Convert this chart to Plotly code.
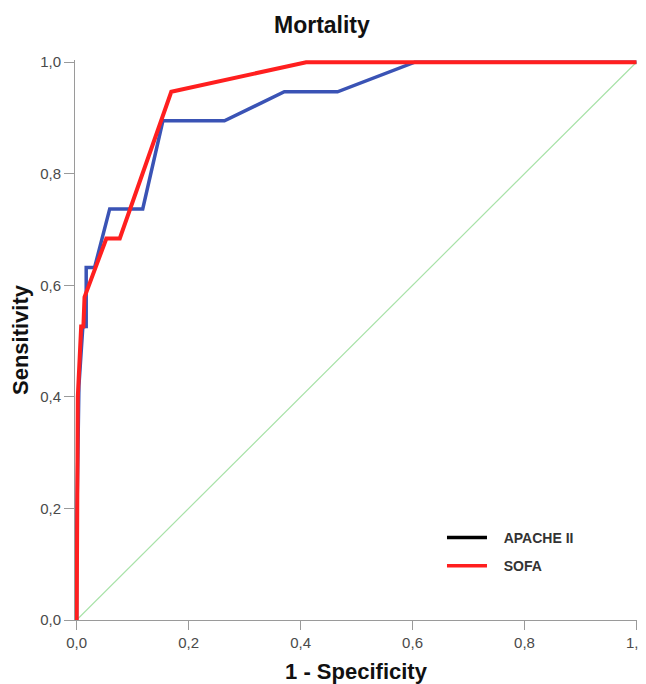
import plotly.graph_objects as go

# APACHE II ROC curve (1 - specificity, sensitivity)
apache_fpr = [0.0, 0.0, 0.004, 0.011, 0.017, 0.017, 0.032, 0.059, 0.118, 0.154, 0.264, 0.371, 0.466, 0.604, 1.0]
apache_tpr = [0.0, 0.16, 0.42, 0.526, 0.526, 0.632, 0.632, 0.737, 0.737, 0.895, 0.895, 0.947, 0.947, 1.0, 1.0]

# SOFA ROC curve
sofa_fpr = [0.0, 0.002, 0.008, 0.012, 0.014, 0.053, 0.077, 0.169, 0.41, 1.0]
sofa_tpr = [0.0, 0.40, 0.526, 0.526, 0.579, 0.684, 0.684, 0.947, 1.0, 1.0]

# Reference line
ref_x = [0.0, 1.0]
ref_y = [0.0, 1.0]

tick_vals = [0.0, 0.2, 0.4, 0.6, 0.8, 1.0]
tick_text = ["0,0", "0,2", "0,4", "0,6", "0,8", "1,0"]

FONT = "Arial, Liberation Sans, sans-serif"

fig = go.Figure()
fig.add_trace(go.Scatter(x=ref_x, y=ref_y, mode="lines",
                         line=dict(color="#a8e2a8", width=1.2), showlegend=False, hoverinfo="skip"))
fig.add_trace(go.Scatter(x=apache_fpr, y=apache_tpr, mode="lines", name="APACHE II",
                         line=dict(color="#3a53b5", width=3.5), showlegend=False))
fig.add_trace(go.Scatter(x=sofa_fpr, y=sofa_tpr, mode="lines", name="SOFA",
                         line=dict(color="#ff1f1f", width=4), showlegend=False))
# legend entries (as in the original: APACHE II shown in black)
fig.add_trace(go.Scatter(x=[None], y=[None], mode="lines", name="&nbsp;&nbsp;&nbsp;<b>APACHE II</b>",
                         legendgroup="a", line=dict(color="#000000", width=3.5)))
fig.add_trace(go.Scatter(x=[None], y=[None], mode="lines", name="&nbsp;&nbsp;&nbsp;<b>SOFA</b>",
                         legendgroup="b", line=dict(color="#ff1f1f", width=3.5)))

# page body has an 8px margin, so the figure is sized/offset to compensate
fig.update_layout(
    width=638, height=676,
    margin=dict(l=67, r=9, t=52, b=64),
    paper_bgcolor="white", plot_bgcolor="white",
    font=dict(family=FONT, color="#333333"),
    title=dict(text="<b>Mortality</b>", x=0.492, xanchor="center", y=0.975, yanchor="middle",
               font=dict(family=FONT, size=23, color="#111111")),
    legend=dict(x=0.653, y=0.175, xanchor="left", yanchor="top",
                font=dict(family=FONT, size=14, color="#333333"),
                bgcolor="rgba(0,0,0,0)", tracegroupgap=7, itemwidth=40),
    xaxis=dict(range=[-0.003, 1.001], tickvals=tick_vals, ticktext=tick_text, automargin=False,
               ticklabeloverflow="allow",
               showgrid=False, zeroline=False, showline=True, linecolor="#9a9a9a", linewidth=1,
               ticks="outside", ticklen=9, tickcolor="#9a9a9a",
               tickfont=dict(family=FONT, size=15, color="#4a4a4a"),
               title=dict(text="<b>1 - Specificity</b>", font=dict(family=FONT, size=22, color="#111111"), standoff=14)),
    yaxis=dict(range=[0, 1.004], tickvals=tick_vals, ticktext=tick_text, automargin=False,
               ticklabeloverflow="allow",
               showgrid=False, zeroline=False, showline=True, linecolor="#9a9a9a", linewidth=1,
               ticks="outside", ticklen=10, tickcolor="#9a9a9a",
               tickfont=dict(family=FONT, size=15, color="#4a4a4a"),
               title=dict(text="<b>Sensitivity</b>", font=dict(family=FONT, size=22, color="#111111"), standoff=7)),
)

fig.write_html("out.html")
